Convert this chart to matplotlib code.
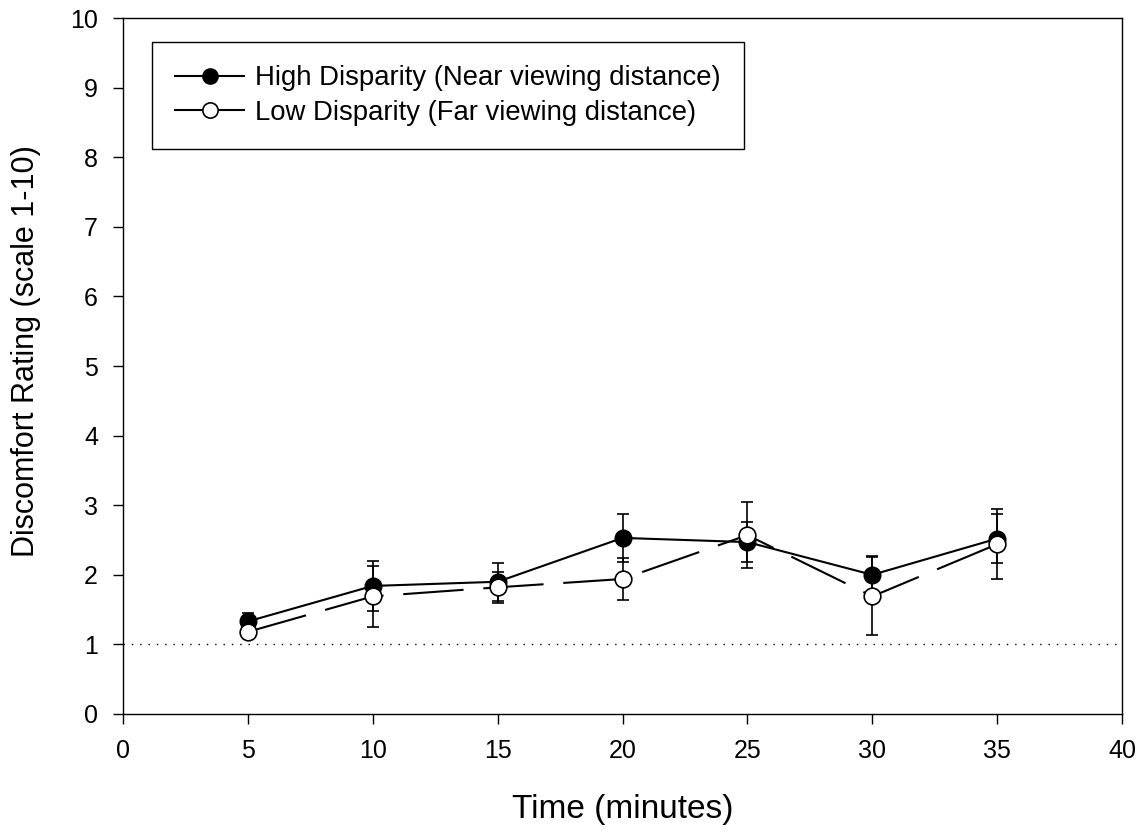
import matplotlib.pyplot as plt
from matplotlib.lines import Line2D

plt.rcParams['font.family'] = ['Liberation Sans', 'DejaVu Sans']

time = [5, 10, 15, 20, 25, 30, 35]
high = [1.33, 1.84, 1.90, 2.53, 2.47, 2.00, 2.52]
high_err = [0.12, 0.36, 0.27, 0.35, 0.29, 0.27, 0.35]
low = [1.18, 1.69, 1.82, 1.94, 2.57, 1.69, 2.44]
low_err = [0.08, 0.44, 0.22, 0.30, 0.47, 0.56, 0.50]

fig = plt.figure(figsize=(11.41, 8.31), dpi=100)
ax = fig.add_axes([0.1078, 0.1408, 0.8756, 0.8375])

# reference line at 1
ax.axhline(1, color='black', lw=1.0, linestyle=(0, (1, 5)), zorder=1)

ax.errorbar(time, high, yerr=high_err, fmt='none', ecolor='black', elinewidth=1.2,
            capsize=4.5, capthick=1.2, zorder=2)
ax.errorbar(time, low, yerr=low_err, fmt='none', ecolor='black', elinewidth=1.2,
            capsize=4.5, capthick=1.2, zorder=2)

ax.plot(time, high, color='black', lw=1.5, zorder=3)
ax.plot(time, high, 'o', color='black', mfc='black', mec='black', ms=12, zorder=4)
ax.plot(time, low, color='black', lw=1.5, linestyle=(0, (29, 9.5)), zorder=5)
ax.plot(time, low, 'o', color='black', mfc='white', mec='black', ms=12, mew=1.2, zorder=6)

ax.set_xlim(0, 40)
ax.set_ylim(0, 10)
ax.set_xticks(range(0, 41, 5))
ax.set_yticks(range(0, 11))
ax.tick_params(direction='out', length=7, width=1, labelsize=18, top=False, right=False, pad=11)
for s in ax.spines.values():
    s.set_linewidth(1)

ax.set_xlabel('Time (minutes)', fontsize=24)
ax.xaxis.set_label_coords(0.5, -0.115)
ax.set_ylabel('Discomfort Rating (scale 1-10)', fontsize=22)
ax.yaxis.set_label_coords(-0.082, 0.5216)

handles = [
    Line2D([], [], color='black', lw=1.5, marker='o', mfc='black', mec='black', ms=11),
    Line2D([], [], color='black', lw=1.5, marker='o', mfc='white', mec='black', ms=11, mew=1.2),
]
leg = ax.legend(handles, ['High Disparity (Near viewing distance)',
                          'Low Disparity (Far viewing distance)'],
                loc='upper left', bbox_to_anchor=(0.029, 0.9655), fontsize=19.8,
                fancybox=False, framealpha=1, edgecolor='black', handlelength=2.5,
                borderpad=0.85, labelspacing=0.3, handletextpad=0.4, borderaxespad=0)
leg.get_frame().set_linewidth(1)

fig.savefig('out.png', dpi=100)
